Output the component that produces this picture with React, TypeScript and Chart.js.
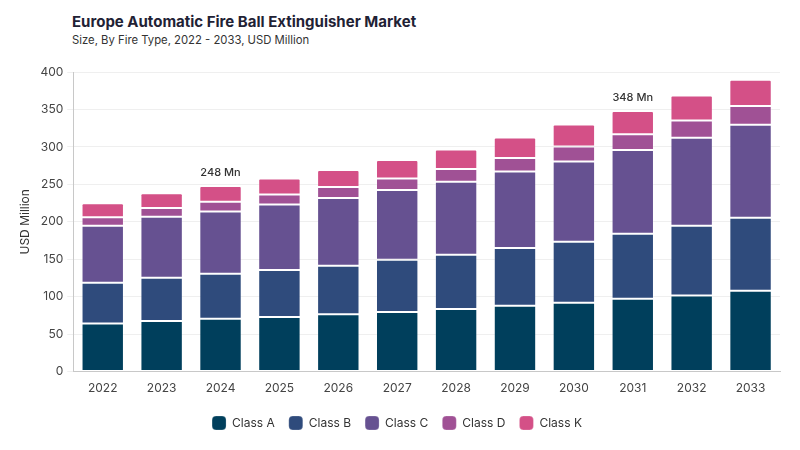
import React, { useEffect, useRef } from "react";
import { Chart, registerables } from "chart.js";

Chart.register(...registerables);

const years = ["2022", "2023", "2024", "2025", "2026", "2027", "2028", "2029", "2030", "2031", "2032", "2033"];
const classA = [64.2, 67.7, 70.4, 73.0, 76.5, 79.7, 83.5, 87.8, 91.8, 97.1, 101.7, 107.8];
const classB = [54.3, 57.5, 60.2, 62.6, 64.8, 69.6, 72.5, 77.2, 81.6, 87.0, 93.1, 97.7];
const classC = [76.3, 81.7, 83.3, 87.4, 90.6, 93.3, 97.6, 102.0, 107.0, 111.6, 117.3, 124.0];
const classD = [11.2, 11.6, 13.0, 13.3, 14.7, 15.2, 17.0, 18.3, 20.1, 21.3, 23.2, 25.2];
const classK = [18.7, 19.6, 21.0, 21.5, 22.7, 24.8, 25.9, 27.3, 29.4, 31.0, 33.4, 35.0];
const seriesNames = ["Class A", "Class B", "Class C", "Class D", "Class K"];
const seriesColors = ["#003f5c", "#2f4b7c", "#665191", "#a05195", "#d45087"];
const annotatedYears = ["2024", "2031"];
const yTicksMax = 400;
const yTicksStep = 50;

const FONT = "Inter, 'DejaVu Sans', sans-serif";

export default function App() {
  const ref = useRef<HTMLCanvasElement | null>(null);

  useEffect(() => {
    document.body.style.margin = "0";
    const canvas = ref.current;
    if (!canvas) return;
    const seriesData = [classA, classB, classC, classD, classK];

    const totalLabels = {
      id: "totalLabels",
      afterDatasetsDraw(chart: any) {
        const ctx = chart.ctx;
        const xs = chart.scales.x;
        const ys = chart.scales.y;
        ctx.save();
        ctx.font = `500 11px ${FONT}`;
        ctx.fillStyle = "#333333";
        ctx.textAlign = "center";
        ctx.textBaseline = "bottom";
        annotatedYears.forEach((yr) => {
          const i = years.indexOf(yr);
          const total = seriesData.reduce((s, arr) => s + arr[i], 0);
          const x = xs.getPixelForValue(i);
          const y = ys.getPixelForValue(total) - 8;
          ctx.fillText(`${Math.round(total)} Mn`, x, y);
        });
        ctx.restore();
      },
    };

    const chart = new Chart(canvas, {
      type: "bar",
      data: {
        labels: years,
        datasets: seriesData.map((d, k) => ({
          label: seriesNames[k],
          data: d,
          backgroundColor: seriesColors[k],
          borderColor: "rgba(255,255,255,0.22)",
          borderWidth: 1,
          borderRadius: k === 4 ? { topLeft: 2, topRight: 2 } : 0,
          borderSkipped: false,
          categoryPercentage: 1,
          barPercentage: 0.72,
        })),
      },
      options: {
        animation: false,
        responsive: false,
        maintainAspectRatio: false,
        layout: { padding: { top: 72, right: 20, left: 14, bottom: 10 } },
        plugins: {
          legend: {
            position: "bottom",
            labels: {
              font: { family: FONT, size: 12 },
              color: "#333333",
              boxWidth: 14,
              boxHeight: 14,
              useBorderRadius: true,
              borderRadius: 4,
              padding: 14,
            },
          },
          tooltip: { enabled: false },
        },
        scales: {
          x: {
            stacked: true,
            grid: { display: false },
            border: { display: true, color: "#c8c8c8" },
            ticks: { font: { family: FONT, size: 12 }, color: "#444444", padding: 2 },
            afterFit: (scale: any) => {
              scale.height += 4;
            },
          },
          y: {
            stacked: true,
            min: 0,
            max: yTicksMax,
            ticks: { stepSize: yTicksStep, font: { family: FONT, size: 12 }, color: "#444444", padding: 4 },
            grid: { color: "#efefef", tickLength: 6, tickColor: "#efefef" },
            border: { display: true, color: "#c8c8c8" },
            title: {
              display: true,
              text: "USD Million",
              font: { family: FONT, size: 12 },
              color: "#333333",
              padding: 4,
            },
          },
        },
      },
      plugins: [totalLabels],
    });
    return () => chart.destroy();
  }, []);

  return (
    <div style={{ position: "relative", width: 800, height: 450, background: "#ffffff", fontFamily: FONT }}>
      <div style={{ position: "absolute", left: 72, top: 12, fontSize: 15, fontWeight: 700, color: "#1f2235" }}>
        Europe Automatic Fire Ball Extinguisher Market
      </div>
      <div style={{ position: "absolute", left: 72, top: 33, fontSize: 11.3, color: "#333333" }}>
        Size, By Fire Type, 2022 - 2033, USD Million
      </div>
      <canvas ref={ref} width={800} height={450} style={{ position: "absolute", left: 0, top: 0 }} />
    </div>
  );
}
